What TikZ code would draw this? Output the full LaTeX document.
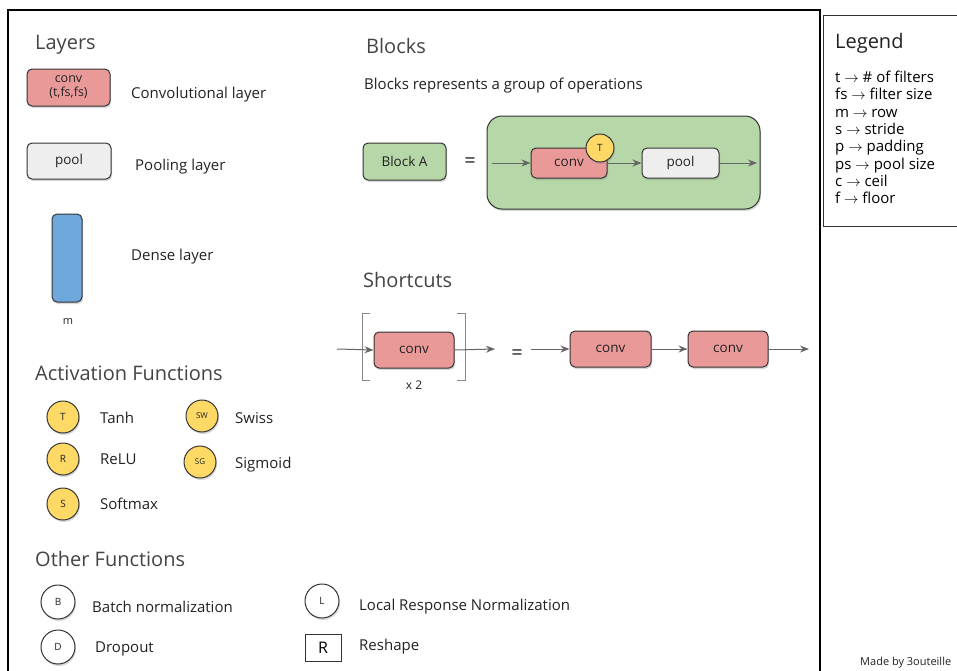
\documentclass[tikz,border=0pt]{standalone}
\usepackage{fontspec}
\setmainfont{Open Sans}
\usetikzlibrary{shadows,arrows.meta}
\definecolor{convred}{HTML}{EA9999}
\definecolor{poolgray}{HTML}{EEEEEE}
\definecolor{denseblue}{HTML}{6FA8DC}
\definecolor{blockgreen}{HTML}{B6D7A8}
\definecolor{actyellow}{HTML}{FFD966}
\definecolor{edgegray}{HTML}{333333}
\definecolor{headgray}{HTML}{444444}
\definecolor{textdark}{HTML}{222222}
\definecolor{arrowgray}{HTML}{666666}
\definecolor{bracketgray}{HTML}{888888}
\tikzset{
  shad/.style={drop shadow={opacity=0.3,shadow xshift=1pt,shadow yshift=-2pt}},
  layerbox/.style={draw=edgegray,line width=1pt,rounded corners=5pt,shad,
    inner sep=0pt,text=textdark,font=\fontsize{13.5}{15}\selectfont,align=center},
  actcirc/.style={circle,draw=edgegray,line width=1pt,fill=actyellow,shad,
    minimum size=32pt,inner sep=0pt,text=textdark,font=\fontsize{10}{12}\selectfont},
  othcirc/.style={circle,draw=edgegray,line width=1pt,fill=white,shad,
    minimum size=34pt,inner sep=0pt,text=textdark,font=\fontsize{10}{12}\selectfont},
  heading/.style={anchor=west,inner sep=0pt,text=headgray,font=\fontsize{20}{22}\selectfont},
  label/.style={anchor=west,inner sep=0pt,text=textdark,font=\fontsize{15}{17}\selectfont},
  flow/.style={draw=arrowgray,line width=1pt,-{Stealth[length=9pt,width=7pt]}},
  eqsign/.style={inner sep=0pt,text=textdark,font=\fontsize{20}{22}\selectfont},
}
\begin{document}
\begin{tikzpicture}[x=1pt,y=-1pt]
\useasboundingbox (0,0) rectangle (957,670);
\clip (0,0) rectangle (957,670);
\fill[white] (0,0) rectangle (957,670);

% outer frames
\draw[black,line width=2pt] (8,700) -- (8,10) -- (820,10) -- (820,700);
\draw[edgegray,line width=1pt] (1000,15) -- (823,15) -- (823,226) -- (1000,226);

% legend
\node[heading,text=textdark] (legtitle) at (835,43) {Legend};
\node[anchor=north west,inner sep=0pt,text=black,align=left,
  font=\fontsize{15}{17.3}\selectfont] (legtext) at (835,71)
  {t ${\to}$ \# of filters\\ fs ${\to}$ filter size\\ m ${\to}$ row\\ s ${\to}$ stride\\
   p ${\to}$ padding\\ ps ${\to}$ pool size\\ c ${\to}$ ceil\\ f ${\to}$ floor};
\node[anchor=west,inner sep=0pt,text=textdark,font=\fontsize{11}{13}\selectfont]
  (credit) at (860,663) {Made by 3outeille};

% layers
\node[heading] (hlayers) at (35,45) {Layers};
\node[layerbox,fill=convred,minimum width=83pt,minimum height=37pt,
  font=\fontsize{12.5}{14}\selectfont] (lconv) at (68.5,87.5) {conv\\(t,fs,fs)};
\node[label] (tconv) at (131,95) {Convolutional layer};
\node[layerbox,fill=poolgray,minimum width=84pt,minimum height=36pt] (lpool) at (69,161) {pool};
\node[label] (tpool) at (135,167) {Pooling layer};
\node[layerbox,fill=denseblue,minimum width=30pt,minimum height=88pt] (ldense) at (67,258) {};
\node[inner sep=0pt,text=textdark,font=\fontsize{11}{13}\selectfont] (tm) at (68,321) {m};
\node[label] (tdense) at (131,257) {Dense layer};

% blocks
\node[heading] (hblocks) at (366,46) {Blocks};
\node[label] (tblocks) at (364,86) {Blocks represents a group of operations};
\node[layerbox,fill=blockgreen,minimum width=83pt,minimum height=37pt] (blocka) at (404.5,161.5) {Block A};
\node[eqsign] (eq1) at (470,163) {=};
\node[draw=edgegray,line width=1pt,rounded corners=15pt,fill=blockgreen,shad,
  minimum width=273pt,minimum height=93pt] (bgroup) at (623.5,162.5) {};
\node[layerbox,fill=convred,minimum width=76pt,minimum height=30pt] (bconv) at (569,163) {conv};
\node[layerbox,fill=poolgray,minimum width=77pt,minimum height=30pt] (bpool) at (680.5,163) {pool};
\node[actcirc,minimum size=28pt] (bact) at (600,148) {T};
\coordinate (bin) at (492,163);
\coordinate (bout) at (757,163);
\draw[flow] (bin) -- (bconv.west);
\draw[flow] (bconv.east) -- (bpool.west);
\draw[flow] (bpool.east) -- (bout);

% shortcuts
\node[heading] (hshort) at (363,280) {Shortcuts};
\node[layerbox,fill=convred,minimum width=80pt,minimum height=36pt] (sconv) at (414,350) {conv};
\draw[bracketgray,line width=1pt] (370,313) -- (362,313) -- (362,380) -- (370,380);
\draw[bracketgray,line width=1pt] (457,313) -- (465,313) -- (465,380) -- (457,380);
\node[inner sep=0pt,text=textdark,font=\fontsize{12}{14}\selectfont] (rep) at (414,385) {x 2};
\coordinate (sin) at (337,349);
\coordinate (sout) at (495,349);
\draw[flow] (sin) -- (sconv.west);
\draw[flow] (sconv.east) -- (sout);
\node[eqsign] (eq2) at (517,355) {=};
\node[layerbox,fill=convred,minimum width=81pt,minimum height=36pt] (sconva) at (610.5,349) {conv};
\node[layerbox,fill=convred,minimum width=80pt,minimum height=36pt] (sconvb) at (728,349) {conv};
\coordinate (sin2) at (531,349);
\coordinate (sout2) at (809,349);
\draw[flow] (sin2) -- (sconva.west);
\draw[flow] (sconva.east) -- (sconvb.west);
\draw[flow] (sconvb.east) -- (sout2);

% activation functions
\node[heading] (hact) at (35,373) {Activation Functions};
\node[actcirc] (atanh) at (63,417) {T};
\node[label] (ttanh) at (100,418) {Tanh};
\node[actcirc] (arelu) at (63,459) {R};
\node[label] (trelu) at (100,459) {ReLU};
\node[actcirc] (asoft) at (63,504) {S};
\node[label] (tsoft) at (100,504) {Softmax};
\node[actcirc,font=\fontsize{8}{10}\selectfont] (aswiss) at (202,416) {SW};
\node[label] (tswiss) at (235,418) {Swiss};
\node[actcirc,font=\fontsize{8}{10}\selectfont] (asig) at (200,462) {SG};
\node[label] (tsig) at (235,465) {Sigmoid};

% other functions
\node[heading] (hother) at (35,559) {Other Functions};
\node[othcirc] (obatch) at (58,602) {B};
\node[label] (tbatch) at (92,607) {Batch normalization};
\node[othcirc] (odrop) at (58,647) {D};
\node[label] (tdrop) at (95,649) {Dropout};
\node[othcirc] (olrn) at (322,601) {L};
\node[label] (tlrn) at (359,607) {Local Response Normalization};
\node[draw=edgegray,line width=1pt,fill=white,minimum width=36pt,minimum height=27pt,
  inner sep=0pt,text=black,font=\fontsize{16}{18}\selectfont] (oresh) at (323,647.5) {R};
\node[label] (tresh) at (359,647) {Reshape};
\end{tikzpicture}
\end{document}
